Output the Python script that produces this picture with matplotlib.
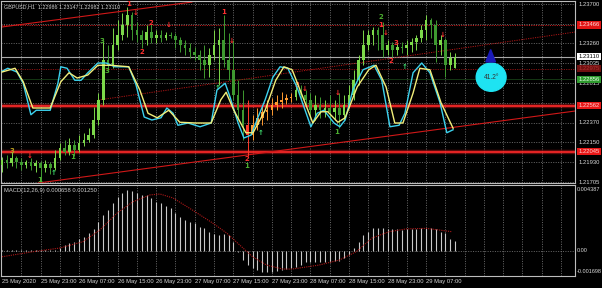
import matplotlib
matplotlib.use("Agg")
import matplotlib.pyplot as plt
from matplotlib.patches import Ellipse, Polygon
from matplotlib import font_manager

# ---------------- data ----------------
bar_open = [1.21897, 1.21953, 1.21919, 1.21975, 1.21931, 1.21897, 1.21931, 1.21886, 1.21919, 1.21863,
            1.21908, 1.21863, 1.21975, 1.22087, 1.22043, 1.22121, 1.22065, 1.22143, 1.22177, 1.22233,
            1.22401, 1.22625, 1.23073, 1.23017, 1.23241, 1.23353, 1.23465, 1.23577, 1.23409, 1.23353,
            1.23297, 1.23387, 1.23319, 1.23353, 1.23319, 1.23353, 1.23342, 1.23297, 1.23241, 1.23207,
            1.23163, 1.23129, 1.23073, 1.23017, 1.23129, 1.23241, 1.23297, 1.23073, 1.22961, 1.22681,
            1.22513, 1.22345, 1.22233, 1.22345, 1.22423, 1.22491, 1.22513, 1.22569, 1.22603, 1.22625,
            1.22647, 1.22659, 1.22737, 1.22681, 1.22625, 1.22513, 1.22569, 1.22513, 1.22535, 1.22491,
            1.22535, 1.22457, 1.22569, 1.22681, 1.22849, 1.23073, 1.23241, 1.23353, 1.23409, 1.23353,
            1.23185, 1.23241, 1.23185, 1.23219, 1.23207, 1.23241, 1.23275, 1.23319, 1.23409, 1.23521,
            1.23465, 1.23241, 1.23297, 1.23017, 1.22986]
bar_close = [1.21953, 1.21919, 1.21975, 1.21931, 1.21897, 1.21931, 1.21886, 1.21919, 1.21863, 1.21908,
             1.21863, 1.21975, 1.22087, 1.22043, 1.22121, 1.22065, 1.22143, 1.22177, 1.22233, 1.22401,
             1.22625, 1.23073, 1.23017, 1.23241, 1.23353, 1.23465, 1.23577, 1.23409, 1.23353, 1.23297,
             1.23387, 1.23319, 1.23353, 1.23319, 1.23353, 1.23342, 1.23297, 1.23241, 1.23207, 1.23163,
             1.23129, 1.23073, 1.23017, 1.23129, 1.23241, 1.23297, 1.23073, 1.22961, 1.22681, 1.22513,
             1.22345, 1.22233, 1.22345, 1.22423, 1.22491, 1.22513, 1.22569, 1.22603, 1.22625, 1.22647,
             1.22659, 1.22737, 1.22681, 1.22625, 1.22513, 1.22569, 1.22513, 1.22535, 1.22491, 1.22535,
             1.22457, 1.22569, 1.22681, 1.22849, 1.23073, 1.23241, 1.23353, 1.23409, 1.23353, 1.23185,
             1.23241, 1.23185, 1.23219, 1.23207, 1.23241, 1.23275, 1.23319, 1.23409, 1.23521, 1.23465,
             1.23241, 1.23297, 1.23017, 1.23095, 1.23110]
bar_high = [1.21987, 1.22009, 1.22043, 1.21998, 1.21975, 1.21953, 1.21975, 1.21953, 1.21942, 1.21953,
            1.21931, 1.22065, 1.22143, 1.22177, 1.22199, 1.22177, 1.22233, 1.22255, 1.22311, 1.22547,
            1.22703, 1.23297, 1.23241, 1.23431, 1.23521, 1.23599, 1.23667, 1.23611, 1.23499, 1.23409,
            1.23465, 1.23476, 1.23409, 1.23409, 1.23387, 1.23387, 1.23375, 1.23331, 1.23297, 1.23263,
            1.23219, 1.23185, 1.23241, 1.23207, 1.23409, 1.23431, 1.23577, 1.23375, 1.23297, 1.22849,
            1.22737, 1.22625, 1.22457, 1.22535, 1.22569, 1.22625, 1.22647, 1.22681, 1.22715, 1.22692,
            1.22703, 1.22815, 1.22793, 1.22737, 1.22703, 1.22681, 1.22659, 1.22625, 1.22681, 1.22625,
            1.22703, 1.22681, 1.22793, 1.22961, 1.23129, 1.23409, 1.23409, 1.23443, 1.23443, 1.23499,
            1.23297, 1.23275, 1.23263, 1.23275, 1.23297, 1.23319, 1.23353, 1.23465, 1.23577, 1.23543,
            1.23521, 1.23353, 1.23319, 1.23163, 1.23147]
bar_low = [1.21819, 1.21863, 1.21886, 1.21863, 1.21841, 1.21863, 1.21841, 1.21819, 1.21707, 1.21819,
           1.21797, 1.21841, 1.21953, 1.22009, 1.22009, 1.21998, 1.22043, 1.22109, 1.22155, 1.22199,
           1.22345, 1.22569, 1.22961, 1.22983, 1.23185, 1.23297, 1.23331, 1.23297, 1.23275, 1.23207,
           1.23241, 1.23263, 1.23263, 1.23275, 1.23297, 1.23319, 1.23207, 1.23163, 1.23129, 1.23095,
           1.23073, 1.22961, 1.22871, 1.22883, 1.23073, 1.22793, 1.22995, 1.22849, 1.22625, 1.22401,
           1.22177, 1.21998, 1.22177, 1.22289, 1.22345, 1.22401, 1.22457, 1.22513, 1.22535, 1.22580,
           1.22603, 1.22625, 1.22625, 1.22569, 1.22423, 1.22401, 1.22423, 1.22435, 1.22345, 1.22401,
           1.22311, 1.22401, 1.22535, 1.22625, 1.22793, 1.23017, 1.23185, 1.23241, 1.23185, 1.23107,
           1.23129, 1.23107, 1.23129, 1.23151, 1.23129, 1.23163, 1.23185, 1.23275, 1.23297, 1.23319,
           1.23051, 1.23129, 1.22883, 1.22961, 1.22982]
# bar colour groups: 'g' normal, 'r' red, 'o' orange
bar_kind = ['g'] * 51 + ['r'] + ['o'] * 9 + ['g'] * 34

# stochastic overlay (percent), vertices at bar positions
stoch_main_x = [0, 1.2, 3.1, 4.4, 6, 7.1, 10, 11.6, 12.2, 13.5, 15.1, 16.4, 17.8, 19.9, 21.6, 23.4, 26.3,
                27.8, 29.5, 31.1, 33, 34.2, 35.5, 36.5, 38.6, 41.1, 43.4, 44.6, 46.3, 47.3, 49, 50.2,
                51.7, 52.9, 54.6, 56.2, 57.7, 59.3, 61.2, 62.9, 64.1, 65.4, 66.8, 68.9, 70.1, 71.2,
                72.8, 74.9, 77.2, 78.8, 80.5, 82.4, 83.6, 85.3, 87.1, 88.8, 90.9, 92.3, 93.6]
stoch_main = [89, 93, 88, 73, 31, 37, 37, 73, 95, 93, 77, 77, 87, 100, 100, 95, 95,
              71, 28, 24, 27, 40, 33, 17, 20, 15, 20, 64, 73, 55, 20, 0,
              4, 24, 51, 81, 95, 93, 68, 37, 15, 33, 37, 20, 15, 24,
              64, 91, 97, 77, 15, 17, 33, 87, 100, 87, 47, 7, 11]
stoch_signal_x = [0, 2.7, 4.4, 6.4, 10, 12.2, 13.9, 15.6, 17.8, 19.9, 22.6, 26.3, 28.6, 30.3, 32.2,
                  34.6, 36.9, 40.2, 43.4, 45.4, 46.5, 48.1, 50.6, 52.1, 54.6, 56.8, 58.5, 60.2,
                  62.4, 64.5, 66.2, 67.6, 69.7, 71.2, 73.7, 76.1, 77.6, 79.7, 81.5, 83.2, 85.3,
                  86.7, 88.8, 91.1, 93.6]
stoch_signal = [88, 93, 75, 40, 40, 75, 87, 80, 84, 97, 97, 95, 64, 33, 27,
                37, 21, 20, 20, 51, 61, 37, 7, 7, 37, 77, 95, 91,
                55, 20, 35, 35, 21, 27, 68, 91, 97, 68, 20, 20, 60,
                93, 91, 47, 13]

# MACD histogram per bar
macd_hist = [0.00004, 0.00004, 0.00005, 0.00005, 0.00006, 0.00006, 0.00006, 0.00007, 0.00007, 0.00008,
             0.00009, 0.00010, 0.00018, 0.00041, 0.00054, 0.00063, 0.00081, 0.00097, 0.00122, 0.00149,
             0.00198, 0.00243, 0.00277, 0.00327, 0.00367, 0.00392, 0.00412, 0.00406, 0.00394, 0.00379,
             0.00379, 0.00358, 0.00333, 0.00324, 0.00304, 0.00291, 0.00257, 0.00232, 0.00210, 0.00198,
             0.00189, 0.00164, 0.00155, 0.00130, 0.00115, 0.00108, 0.00115, 0.00108, 0.00063, -0.00005,
             -0.00061, -0.00095, -0.00117, -0.00128, -0.00140, -0.00140, -0.00140, -0.00133, -0.00128, -0.00124,
             -0.00117, -0.00106, -0.00092, -0.00075, -0.00072, -0.00072, -0.00072, -0.00072, -0.00072, -0.00070,
             -0.00068, -0.00050, -0.00030, 0.00020, 0.00063, 0.00108, 0.00130, 0.00153, 0.00153, 0.00153,
             0.00150, 0.00150, 0.00150, 0.00140, 0.00150, 0.00150, 0.00150, 0.00153, 0.00158, 0.00153,
             0.00148, 0.00130, 0.00120, 0.00080, 0.00070]
macd_signal_x = [0, 6.4, 12, 16.8, 20.3, 23.9, 27.2, 30.7, 32.8, 35.5, 39.5, 43.7, 46.6, 49.3, 52,
                 54.9, 58.2, 60.2, 61.7, 65.8, 70, 73.5, 76.8, 80.3, 83.8, 88, 90.7, 93.4]
macd_signal = [-0.00039, -0.00005, 0.00020, 0.00063, 0.00142, 0.00257, 0.00333, 0.00379, 0.00385,
               0.00358, 0.00277, 0.00189, 0.00122, 0.00041, -0.00039, -0.00095, -0.00122, -0.00122,
               -0.00115, -0.00095, -0.00061, -0.00005, 0.00088, 0.00130, 0.00149, 0.00153, 0.00142,
               0.00130]

# axis labels
price_ticks = [1.23700, 1.23480, 1.23260, 1.23035, 1.22815, 1.22595, 1.22370, 1.22150, 1.21930, 1.21705]
price_tick_labels = ["1.23700", "", "1.23260", "1.23035", "1.22815", "", "1.22370", "1.22150", "1.21930", "1.21705"]
date_pos = [0, 8, 16, 24, 32, 40, 48, 56, 64, 72, 80, 88]
date_labels = ["25 May 2020", "25 May 23:00", "26 May 07:00", "26 May 15:00", "26 May 23:00",
               "27 May 07:00", "27 May 15:00", "27 May 23:00", "28 May 07:00", "28 May 15:00",
               "28 May 23:00", "29 May 07:00"]
macd_labels = [(0.00416, "0.004387"), (0.0, "0.00"), (-0.00140, "-0.001698")]

# horizontal levels
level_dotted_red = 1.23466
level_dotted_dark = 1.22975
level_dotted_green = 1.22856
level_bold_1 = 1.22562
level_bold_2 = 1.22045
level_current = 1.23110

# trend lines (bar index, price)
trend_top = ([0, 39.4], [1.23443, 1.23722])
trend_bottom = ([7.5, 119], [1.21695, 1.22502])
trend_dotted = ([20, 119], [1.22625, 1.23387])

# signal markers: (bar, price, text, colour)
markers = [
    (2.0, 1.22054, "3", "#b8a020"), (5.8, 1.21998, "\u2193", "#ff3030"), (7.9, 1.21729, "1", "#4caf30"),
    (10.8, 1.21808, "\u2191", "#40e070"), (14.7, 1.21987, "1", "#4caf30"), (20.7, 1.23286, "3", "#4caf30"),
    (21.8, 1.22950, "3", "#4caf30"), (26.2, 1.23700, "1", "#ff3030"), (27.8, 1.23599, "\u2193", "#ff3030"),
    (29.0, 1.23163, "2", "#ff3030"), (30.9, 1.23487, "2", "#ff3030"), (34.6, 1.23465, "\u2193", "#ff3030"),
    (44.8, 1.22759, "\u2191", "#40e070"), (45.9, 1.23611, "1", "#ff3030"), (47.7, 1.23286, "\u2193", "#ff3030"),
    (50.8, 1.21964, "2", "#ff3030"), (50.8, 1.21886, "1", "#4caf30"), (53.7, 1.22255, "\u2191", "#40e070"),
    (61.2, 1.22793, "3", "#ff3030"), (62.7, 1.22748, "\u2193", "#ff3030"), (69.7, 1.22703, "\u2193", "#ff3030"),
    (69.5, 1.22267, "1", "#4caf30"), (78.6, 1.23555, "2", "#4caf30"), (78.6, 1.23465, "1", "#ff3030"),
    (79.7, 1.23375, "\u2193", "#ff3030"), (80.7, 1.23062, "2", "#ff3030"), (81.7, 1.23263, "3", "#ff3030"),
    (83.6, 1.22995, "\u2191", "#40e070"), (91.5, 1.23353, "\u2193", "#ff3030"),
]

# ---------------- drawing ----------------
names = {f.name for f in font_manager.fontManager.ttflist}
FONT = "Liberation Sans Narrow" if "Liberation Sans Narrow" in names else "Liberation Sans"
FS = 4.9 if FONT == "Liberation Sans Narrow" else 4.2
plt.rcParams['font.family'] = [FONT, 'DejaVu Sans']

W, H = 602, 288
fig = plt.figure(figsize=(W / 100, H / 100), dpi=100, facecolor='black')
ax = fig.add_axes([1 / W, (H - 183) / H, 574 / W, 182 / H])
axm = fig.add_axes([1 / W, (H - 276) / H, 574 / W, 91 / H])
XL = (-0.21, 118.9)

for a in (ax, axm):
    a.set_facecolor('black')
    a.set_xlim(*XL)
    a.set_xticks([]); a.set_yticks([])
    for s in a.spines.values():
        s.set_color('#bdbdbd'); s.set_linewidth(0.8)
    for k in range(4, 119, 4):
        a.axvline(k, color='#8c8c8c', lw=0.5, ls=(0, (1.5, 2.0)), zorder=0)

ax.set_ylim(1.21695, 1.23734)
axm.set_ylim(-0.00169, 0.00446)

for p in price_ticks:
    ax.axhline(p, color='#8c8c8c', lw=0.5, ls=(0, (1.5, 2.0)), zorder=0)

# levels and trend lines
ax.axhline(level_dotted_red, color='#c01818', lw=0.7, ls=(0, (1.2, 1.2)), zorder=1)
ax.axhline(level_dotted_dark, color='#8a1010', lw=0.7, ls=(0, (1.2, 1.2)), zorder=1)
ax.axhline(level_dotted_green, color='#2f7f2f', lw=0.6, ls=(0, (1.2, 1.2)), zorder=1)
ax.axhline(level_current, color='#a8a8a8', lw=0.8, zorder=1)
for lv in (level_bold_1, level_bold_2):
    ax.axhline(lv, color='#ff2020', lw=3.2, alpha=0.35, zorder=1)
    ax.axhline(lv, color='#ff2a2a', lw=1.2, zorder=1)
ax.plot(*trend_top, color='#d01818', lw=0.8, zorder=1)
ax.plot(*trend_bottom, color='#d01818', lw=0.8, zorder=1)
ax.plot(*trend_dotted, color='#b01515', lw=0.7, ls=(0, (1.2, 1.2)), zorder=1)

# candles
col = {'g_up': '#7cd84a', 'g_dn': '#3e9a30', 'r': '#ff3a2a', 'o_up': '#ff9a30', 'o_dn': '#e06020'}
for i in range(len(bar_open)):
    o, c, h, l = bar_open[i], bar_close[i], bar_high[i], bar_low[i]
    k = bar_kind[i]
    if k == 'r':
        cc = col['r']
    elif k == 'o':
        cc = col['o_up'] if c >= o else col['o_dn']
    else:
        cc = col['g_up'] if c >= o else col['g_dn']
    ax.vlines(i, l, h, color=cc, lw=0.7, zorder=3)
    ax.bar(i, max(abs(c - o), 0.00004), bottom=min(o, c), width=0.55, color=cc, lw=0, zorder=3)

# stochastic overlay on its own scale
ax2 = ax.twinx()
ax2.set_ylim(-60, 182.7)
ax2.set_xlim(*XL)
ax2.axis('off')
ax2.plot(stoch_main_x, stoch_main, color='#3cd2ee', lw=1.0, zorder=4)
ax2.plot(stoch_signal_x, stoch_signal, color='#f2ee7a', lw=1.0, zorder=5)

for (bx, py, t, cc) in markers:
    ax.text(bx, py, t, color=cc, fontsize=5, fontweight='bold', ha='center', va='center',
            family=['DejaVu Sans'], zorder=6)

# circle + triangle
ax.add_patch(Ellipse((101.5, 1.22880), 6.2, 0.00315, color='#1ee3f2', zorder=6))
ax.text(101.5, 1.22880, "41.2°", color='#333333', fontsize=FS + 0.6, ha='center', va='center', zorder=7)
ax.add_patch(Polygon([[100.4, 1.23051], [102.4, 1.23051], [101.4, 1.23190]], closed=True,
                     color='#1a1ab8', zorder=6))

# title
ax.text(0.006, 1.23667, "GBPUSD,H1  1.22986 1.23147 1.22982 1.23110", color='#d0d0d0',
        fontsize=FS - 0.3, va='center', ha='left', transform=ax.get_yaxis_transform(), zorder=7)

# price axis labels
ytr = ax.get_yaxis_transform()
for p, lab in zip(price_ticks, price_tick_labels):
    if lab:
        ax.text(1.006, p, lab, color='#d8d8d8', fontsize=FS, va='center', ha='left', transform=ytr,
                clip_on=False)
boxes = [(level_dotted_red, "1.23466", '#e01414', '#ffd8d8'),
         (level_current, "1.23110", '#ffffff', '#000000'),
         (level_dotted_dark, "1.22975", '#701010', '#b03030'),
         (level_dotted_green, "1.22856", '#2e9a2e', '#e8ffe8'),
         (level_bold_1, "1.22562", '#e81818', '#ffd0d0'),
         (level_bold_2, "1.22045", '#e81818', '#ffd0d0')]
for p, lab, fc, tc in boxes:
    ax.text(1.006, p, lab, color=tc, fontsize=FS, va='center', ha='left', transform=ytr,
            clip_on=False, bbox=dict(fc=fc, ec='none', pad=0.8))

# MACD panel
axm.axhline(0, color='#8c8c8c', lw=0.5, ls=(0, (1.5, 2.0)), zorder=0)
axm.vlines(range(len(macd_hist)), 0, macd_hist, color='#c8c8c8', lw=0.8, zorder=2)
axm.plot(macd_signal_x, macd_signal, color='#b01818', lw=0.8, ls=(0, (1.0, 1.0)), zorder=3)
axm.text(0.006, 0.945, "MACD(12,26,9) 0.000658 0.001250", color='#d0d0d0', fontsize=FS,
         va='center', ha='left', transform=axm.transAxes)
mtr = axm.get_yaxis_transform()
for v, lab in macd_labels:
    axm.text(1.003, v, lab, color='#d8d8d8', fontsize=FS - 0.2, va='center', ha='left', transform=mtr,
             clip_on=False)
xtr = axm.get_xaxis_transform()
for pos, lab in zip(date_pos, date_labels):
    axm.text(pos, -0.058, lab, color='#d8d8d8', fontsize=FS, va='center', ha='left', transform=xtr,
             clip_on=False)

fig.savefig("out.png", dpi=100, facecolor='black')
